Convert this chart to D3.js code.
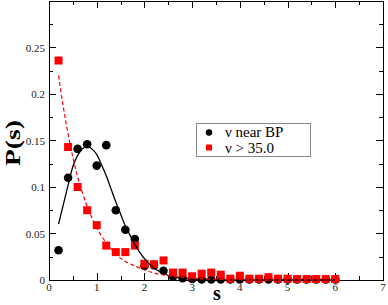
<!DOCTYPE html>
<html>
<head>
<meta charset="utf-8">
<script src="https://cdn.jsdelivr.net/npm/d3@7"></script>
<style>
  html, body { margin: 0; padding: 0; background: #fff; }
  svg { display: block; font-family: "Liberation Serif", "DejaVu Serif", serif; }
</style>
</head>
<body>
<svg id="chart" width="388" height="305"></svg>
<script>
// sample spacing s (x) shared by both measured sets
const sValues = [0.2, 0.4, 0.6, 0.8, 1.0, 1.2, 1.4, 1.6, 1.8, 2.0,
  2.2, 2.4, 2.6, 2.8, 3.0, 3.2, 3.4, 3.6, 3.8, 4.0,
  4.2, 4.4, 4.6, 4.8, 5.0, 5.2, 5.4, 5.6, 5.8, 6.0];

// nu near BP (black circles)
const nearBP = [0.032, 0.110, 0.141, 0.146, 0.123, 0.145, 0.075, 0.054, 0.044, 0.015,
  0.016, 0.010, 0.0035, 0.002, 0.001, 0.0005, 0.0005, 0.0005, 0.0005, 0.0005,
  0.0005, 0.0005, 0.0005, 0.0005, 0.0005, 0.0005, 0.0005, 0.0005, 0.0005, 0.0005];

// nu > 35.0 (red squares)
const above35 = [0.236, 0.143, 0.100, 0.075, 0.059, 0.037, 0.030, 0.030, 0.037, 0.0175,
  0.017, 0.021, 0.008, 0.008, 0.004, 0.0068, 0.008, 0.0057, 0.0014, 0.0046,
  0.0014, 0.0014, 0.003, 0.0014, 0.0014, 0.001, 0.001, 0.001, 0.001, 0.001];

// fitted curve through near-BP data (solid black)
const fitBPx = [0.2, 0.3, 0.4, 0.5, 0.6, 0.7, 0.8, 0.9, 1.0, 1.1, 1.2, 1.3, 1.4, 1.5,
  1.6, 1.7, 1.8, 1.9, 2.0, 2.2, 2.4, 2.6, 2.8, 3.0, 3.5, 4.0, 5.0, 6.0];
const fitBPy = [0.060, 0.081, 0.102, 0.122, 0.134, 0.141, 0.144, 0.141, 0.135, 0.124,
  0.112, 0.098, 0.084, 0.071, 0.058, 0.048, 0.038, 0.030, 0.023, 0.013,
  0.007, 0.0035, 0.0017, 0.0008, 0.0002, 0.0001, 0, 0];

// fitted curve through nu > 35 data (red dashed)
const fit35x = [0.2, 0.3, 0.4, 0.5, 0.6, 0.7, 0.8, 0.9, 1.0, 1.2, 1.4, 1.6, 1.8, 2.0,
  2.2, 2.4, 2.6, 2.8, 3.0, 3.5, 4.0, 5.0, 6.0];
const fit35y = [0.220, 0.186, 0.157, 0.132, 0.111, 0.094, 0.079, 0.067, 0.056, 0.040,
  0.028, 0.020, 0.015, 0.011, 0.0075, 0.0054, 0.0038, 0.0027, 0.0019, 0.0008,
  0.0003, 0.0001, 0];

const xTicks = [0, 1, 2, 3, 4, 5, 6, 7];
const yTicks = [0, 0.05, 0.1, 0.15, 0.2, 0.25];
const legendLabels = ["\u03bd near BP", "\u03bd > 35.0"];

const svg = d3.select("#chart");
const margin = { left: 49, right: 5, top: 1, bottom: 25 };
const width = 388 - margin.left - margin.right;
const height = 305 - margin.top - margin.bottom;

const x = d3.scaleLinear().domain([0, 7]).range([margin.left, margin.left + width]);
const y = d3.scaleLinear().domain([0, 0.3]).range([margin.top + height, margin.top]);

const g = svg.append("g");

// frame
g.append("rect")
  .attr("x", x(0) + 0.5)
  .attr("y", y(0.3) + 0.5)
  .attr("width", x(7) - x(0))
  .attr("height", y(0) - y(0.3))
  .attr("fill", "none")
  .attr("stroke", "#000")
  .attr("stroke-width", 1);

// inward ticks on all four sides, major + minor
const xMinor = d3.range(0, 7.01, 0.5);
const yMinor = d3.range(0, 0.3001, 0.025);
const isMajorX = v => Math.abs(v - Math.round(v)) < 1e-6;
const isMajorY = v => Math.abs(v / 0.05 - Math.round(v / 0.05)) < 1e-6;

const ticks = g.append("g").attr("stroke", "#000").attr("stroke-width", 1);
xMinor.forEach(v => {
  const len = isMajorX(v) ? 7 : 4;
  const px = Math.round(x(v)) + 0.5;
  ticks.append("line").attr("x1", px).attr("x2", px)
    .attr("y1", y(0)).attr("y2", y(0) - len);
  ticks.append("line").attr("x1", px).attr("x2", px)
    .attr("y1", y(0.3)).attr("y2", y(0.3) + len);
});
yMinor.forEach(v => {
  const len = isMajorY(v) ? 7 : 4;
  const py = Math.round(y(v)) + 0.5;
  ticks.append("line").attr("x1", x(0)).attr("x2", x(0) + len)
    .attr("y1", py).attr("y2", py);
  ticks.append("line").attr("x1", x(7)).attr("x2", x(7) - len)
    .attr("y1", py).attr("y2", py);
});

// tick labels
g.append("g").selectAll("text")
  .data(xTicks)
  .join("text")
  .attr("x", d => x(d))
  .attr("y", y(0) + 11)
  .attr("text-anchor", "middle")
  .attr("font-size", 11)
  .attr("fill", "#222")
  .text(d => d);

g.append("g").selectAll("text")
  .data(yTicks)
  .join("text")
  .attr("x", x(0) - 4)
  .attr("y", d => y(d) + 4)
  .attr("text-anchor", "end")
  .attr("font-size", 11)
  .attr("fill", "#222")
  .text(d => d3.format("~g")(d));

// axis titles
svg.append("text")
  .attr("x", 217)
  .attr("y", 300)
  .attr("text-anchor", "middle")
  .attr("font-size", 20)
  .attr("font-weight", "bold")
  .text("s");

svg.append("text")
  .attr("transform", "translate(20,143) rotate(-90)")
  .attr("text-anchor", "middle")
  .attr("font-size", 22)
  .attr("font-weight", "bold")
  .attr("textLength", 46)
  .attr("lengthAdjust", "spacingAndGlyphs")
  .text("P(s)");

// data marks
const bpData = sValues.map((s, i) => ({ s, p: nearBP[i] }));
const redData = sValues.map((s, i) => ({ s, p: above35[i] }));

g.append("g").selectAll("circle")
  .data(bpData)
  .join("circle")
  .attr("cx", d => x(d.s))
  .attr("cy", d => y(d.p))
  .attr("r", 4.3)
  .attr("fill", "#000");

g.append("g").selectAll("rect")
  .data(redData)
  .join("rect")
  .attr("x", d => x(d.s) - 4)
  .attr("y", d => y(d.p) - 4)
  .attr("width", 8)
  .attr("height", 8)
  .attr("fill", "#f00");

// fitted curves
const line = d3.line().x(d => x(d[0])).y(d => y(d[1])).curve(d3.curveMonotoneX);

g.append("path")
  .datum(fitBPx.map((v, i) => [v, fitBPy[i]]))
  .attr("d", line)
  .attr("fill", "none")
  .attr("stroke", "#000")
  .attr("stroke-width", 1.3);

g.append("path")
  .datum(fit35x.map((v, i) => [v, fit35y[i]]))
  .attr("d", line)
  .attr("fill", "none")
  .attr("stroke", "#f00")
  .attr("stroke-width", 1.2)
  .attr("stroke-dasharray", "4,2.5");

// legend
const legend = svg.append("g").attr("transform", "translate(196,123)");
legend.append("rect")
  .attr("x", 0.5)
  .attr("y", 0.5)
  .attr("width", 114)
  .attr("height", 33)
  .attr("fill", "#fff")
  .attr("stroke", "#888")
  .attr("stroke-width", 1);

legend.append("circle")
  .attr("cx", 13)
  .attr("cy", 9.5)
  .attr("r", 3.2)
  .attr("fill", "#000");

legend.append("rect")
  .attr("x", 10)
  .attr("y", 21.5)
  .attr("width", 6)
  .attr("height", 6)
  .attr("fill", "#f00");

legend.selectAll("text.lbl")
  .data(legendLabels)
  .join("text")
  .attr("class", "lbl")
  .attr("x", 29)
  .attr("y", (d, i) => 14 + i * 15.5)
  .attr("font-size", 15)
  .text(d => d);
</script>
</body>
</html>
